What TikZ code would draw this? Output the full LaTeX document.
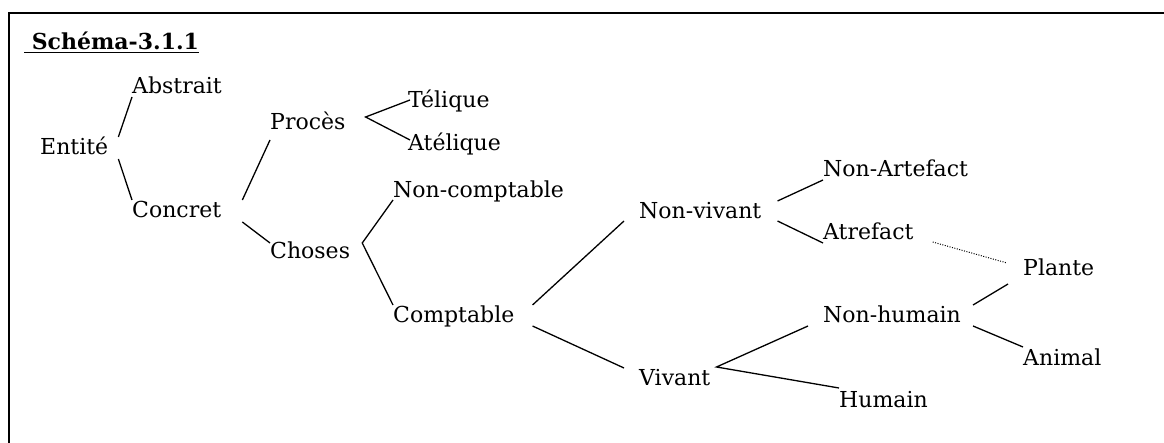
\documentclass[tikz,border=0pt]{standalone}
\usepackage{fontspec}
\setmainfont{DejaVu Serif}
\begin{document}
\begin{tikzpicture}[x=1pt,y=-1pt,
  lbl/.style={anchor=base west,inner sep=0pt,font=\fontsize{22}{26}\selectfont},
  conn/.style={line width=1.3pt},
  dots/.style={line width=1pt,dash pattern=on 1pt off 1.5pt}]
\useasboundingbox (0,0) rectangle (1164,443);
\draw[line width=1.8pt] (9,443) -- (9,13) -- (1164,13);
\node[lbl,font=\fontsize{22}{26}\selectfont\bfseries] (title) at (24,50) {\underline{\ Schéma-3.1.1}};
\node[lbl] (entite) at (40,155) {Entité};
\node[lbl] (abstrait) at (132,94) {Abstrait};
\node[lbl] (concret) at (132,218) {Concret};
\node[lbl] (proces) at (270,130) {Procès};
\node[lbl] (telique) at (408,108) {Télique};
\node[lbl] (atelique) at (408,151) {Atélique};
\node[lbl] (choses) at (270,259) {Choses};
\node[lbl] (noncomptable) at (393,198) {Non-comptable};
\node[lbl] (comptable) at (393,323) {Comptable};
\node[lbl] (nonvivant) at (639,219) {Non-vivant};
\node[lbl] (vivant) at (639,385) {Vivant};
\node[lbl] (nonartefact) at (823,177) {Non-Artefact};
\node[lbl] (atrefact) at (823,240) {Atrefact};
\node[lbl] (plante) at (1023,276) {Plante};
\node[lbl] (nonhumain) at (823,323) {Non-humain};
\node[lbl] (animal) at (1023,365) {Animal};
\node[lbl] (humain) at (839,407) {Humain};
\draw[conn] ([shift={(10,-18)}]entite.base east) -- ([shift={(0,3)}]abstrait.base west);
\draw[conn] ([shift={(10,4)}]entite.base east) -- ([shift={(0,-18)}]concret.base west);
\draw[conn] ([shift={(21,-18)}]concret.base east) -- ([shift={(0,10)}]proces.base west);
\draw[conn] ([shift={(21,4)}]concret.base east) -- ([shift={(0,-16)}]choses.base west);
\draw[conn] ([shift={(2,-8)}]telique.base west) -- ([shift={(20,-13)}]proces.base east) -- ([shift={(2,-11)}]atelique.base west);
\draw[conn] ([shift={(0,2)}]noncomptable.base west) -- ([shift={(12,-16)}]choses.base east) -- ([shift={(0,-18)}]comptable.base west);
\draw[conn] ([shift={(18,-18)}]comptable.base east) -- ([shift={(-15,2)}]nonvivant.base west);
\draw[conn] ([shift={(18,3)}]comptable.base east) -- ([shift={(-15,-17)}]vivant.base west);
\draw[conn] ([shift={(-15,3)}]nonhumain.base west) -- ([shift={(6,-18)}]vivant.base east) -- ([shift={(0,-19)}]humain.base west);
\draw[conn] ([shift={(16,-18)}]nonvivant.base east) -- ([shift={(0,3)}]nonartefact.base west);
\draw[conn] ([shift={(16,2)}]nonvivant.base east) -- ([shift={(0,3)}]atrefact.base west);
\draw[dots] ([shift={(19,2)}]atrefact.base east) -- ([shift={(-16,-13)}]plante.base west);
\draw[conn] ([shift={(12,-18)}]nonhumain.base east) -- ([shift={(-15,8)}]plante.base west);
\draw[conn] ([shift={(12,3)}]nonhumain.base east) -- ([shift={(0,-18)}]animal.base west);
\end{tikzpicture}
\end{document}
